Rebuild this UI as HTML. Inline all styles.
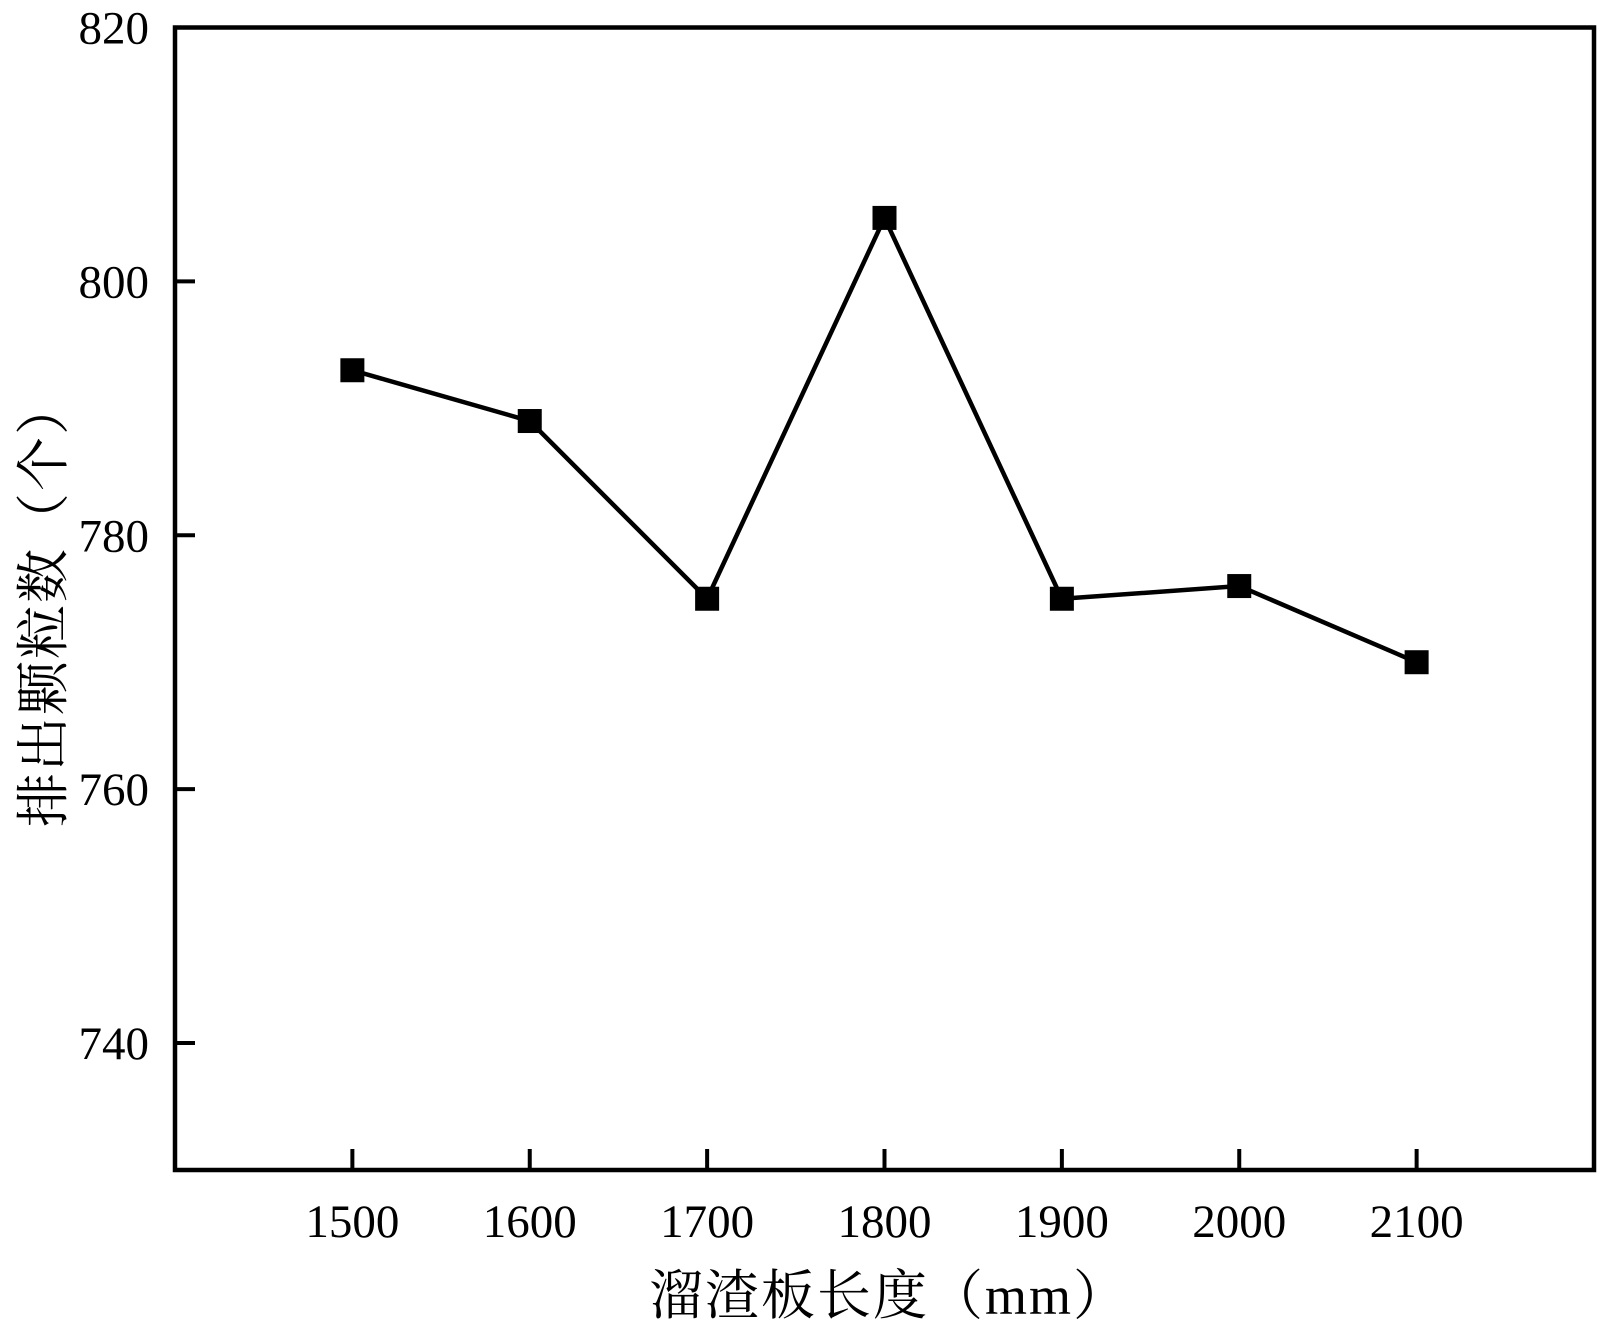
<!DOCTYPE html>
<html><head><meta charset="utf-8"><style>
html,body{margin:0;padding:0;background:#fff;}
svg{display:block;}
text{fill:#000;}
</style></head><body>
<svg id="chart" width="1600" height="1328" xmlns="http://www.w3.org/2000/svg"></svg>
<script>
const categories = [1500, 1600, 1700, 1800, 1900, 2000, 2100];
const values = [793, 789, 775, 805, 775, 776, 770];
const yTicks = [740, 760, 780, 800, 820];
const xTicks = [1500, 1600, 1700, 1800, 1900, 2000, 2100];

const L = 175, R = 1594, T = 27.5, B = 1170;
const xMin = 1400, xMax = 2200, yMin = 730, yMax = 820;
const xs = v => L + (v - xMin) / (xMax - xMin) * (R - L);
const ys = v => B - (v - yMin) / (yMax - yMin) * (B - T);
const svg = document.getElementById('chart');
const NS = 'http://www.w3.org/2000/svg';
function mk(tag, attrs) {
  const e = document.createElementNS(NS, tag);
  for (const k in attrs) e.setAttribute(k, attrs[k]);
  svg.appendChild(e);
  return e;
}
const serif = '"Liberation Serif", "Noto Serif CJK SC", serif';
const cjk = '"Liberation Serif", "Noto Serif CJK SC", "Noto Sans CJK SC", serif';

yTicks.forEach(t => {
  const ln = mk('line', {x1: L, x2: L + 20, y1: ys(t), y2: ys(t), stroke: '#000', 'stroke-width': 4});
  
  
  const tx = mk('text', {x: L - 26, y: ys(t) + 16, 'text-anchor': 'end', 'font-size': 47, 'font-family': serif});
  tx.textContent = t;
  
  
});
xTicks.forEach(t => {
  const ln = mk('line', {x1: xs(t), x2: xs(t), y1: B, y2: B - 21, stroke: '#000', 'stroke-width': 4});
  
  
  const tx = mk('text', {x: xs(t), y: B + 67, 'text-anchor': 'middle', 'font-size': 47, 'font-family': serif});
  tx.textContent = t;
  
  
});

const frame = mk('rect', {x: L, y: T, width: R - L, height: B - T, fill: 'none', stroke: '#000', 'stroke-width': 4.5});



const pts = categories.map((c, i) => xs(c) + ',' + ys(values[i])).join(' ');
const pl = mk('polyline', {points: pts, fill: 'none', stroke: '#000', 'stroke-width': 4.5});


categories.forEach((c, i) => {
  const m = mk('rect', {x: xs(c) - 12, y: ys(values[i]) - 12, width: 24, height: 24, fill: '#000'});
  
  
});

const xt = mk('text', {x: 889, y: 1314, 'text-anchor': 'middle', 'font-size': 54, 'font-family': cjk, 'letter-spacing': 2});
xt.textContent = '溜渣板长度（mm）';


const yt = mk('text', {x: 0, y: 0, 'text-anchor': 'middle', 'font-size': 54, 'font-family': cjk, 'letter-spacing': 2, transform: 'translate(62,603) rotate(-90)'});
yt.textContent = '排出颗粒数（个）';


</script>
</body></html>
